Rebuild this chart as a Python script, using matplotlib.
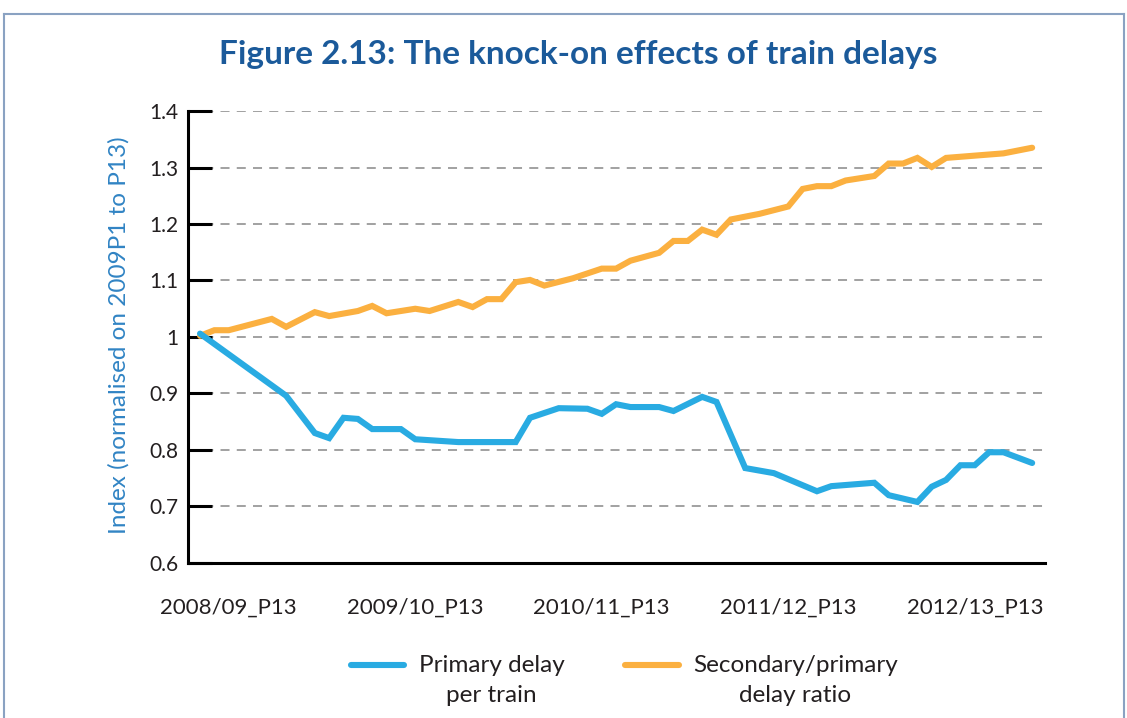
import matplotlib
matplotlib.use('Agg')
import numpy as np
import matplotlib.pyplot as plt
from matplotlib.lines import Line2D
from matplotlib.legend_handler import HandlerLine2D

plt.rcParams['font.family'] = ['Lato', 'DejaVu Sans']

# period index (one step per 4-week period) and index values
orange_x = [0, 1, 2, 5, 6, 8, 9, 11, 12, 13, 15, 16, 18, 19, 20, 21, 22, 23, 24, 26,
            28, 29, 30, 32, 33, 34, 35, 36, 37, 39, 41, 42, 43, 44, 45, 47, 48, 49,
            50, 51, 52, 56, 58]
orange_y = [1.002, 1.012, 1.012, 1.032, 1.018, 1.044, 1.037, 1.046, 1.055, 1.042,
            1.050, 1.046, 1.062, 1.053, 1.067, 1.067, 1.097, 1.101, 1.091, 1.104,
            1.121, 1.121, 1.135, 1.149, 1.170, 1.170, 1.190, 1.181, 1.208, 1.218,
            1.231, 1.262, 1.267, 1.267, 1.277, 1.285, 1.307, 1.307, 1.317, 1.301,
            1.317, 1.325, 1.335]

blue_x = [0, 6, 8, 9, 10, 11, 12, 14, 15, 18, 22, 23, 25, 27, 28, 29, 30, 32, 33,
          35, 36, 38, 40, 43, 44, 47, 48, 50, 51, 52, 53, 54, 55, 56, 58]
blue_y = [1.006, 0.896, 0.830, 0.821, 0.857, 0.855, 0.837, 0.837, 0.819, 0.814,
          0.814, 0.857, 0.874, 0.873, 0.864, 0.881, 0.876, 0.876, 0.869, 0.894,
          0.885, 0.768, 0.759, 0.727, 0.736, 0.742, 0.720, 0.708, 0.735, 0.747,
          0.773, 0.773, 0.796, 0.796, 0.777]

tick_pos = [2, 15, 28, 41, 54]
tick_labels = ['2008/09_P13', '2009/10_P13', '2010/11_P13', '2011/12_P13', '2012/13_P13']
y_ticks = [0.6, 0.7, 0.8, 0.9, 1.0, 1.1, 1.2, 1.3, 1.4]
y_tick_labels = ['0.6', '0.7', '0.8', '0.9', '1', '1.1', '1.2', '1.3', '1.4']

BLUE = '#29abe2'
ORANGE = '#fbb040'
TEXT = '#231f20'


class TopLineHandler(HandlerLine2D):
    """legend line level with the first line of a two-line label"""

    def create_artists(self, legend, orig_handle, xdescent, ydescent, width,
                       height, fontsize, trans):
        artists = super().create_artists(legend, orig_handle, xdescent, ydescent,
                                         width, height, fontsize, trans)
        for a in artists:
            a.set_ydata(np.asarray(a.get_ydata()) + fontsize * 0.66)
        return artists


fig = plt.figure(figsize=(11.27, 7.18), dpi=100)
ax = fig.add_axes([0.1668, 0.2159, 0.7605, 0.6295])

ax.plot(orange_x, orange_y, color=ORANGE, linewidth=4.4,
        solid_capstyle='round', solid_joinstyle='miter', label='Secondary/primary\ndelay ratio', zorder=3)
ax.plot(blue_x, blue_y, color=BLUE, linewidth=4.4,
        solid_capstyle='round', solid_joinstyle='miter', label='Primary delay\nper train', zorder=4)

ax.set_xlim(-0.84, 58.9)
ax.set_ylim(0.6, 1.4)

# dashed gridlines
for v in y_ticks[1:]:
    ax.axhline(v, color='#9a9a9a', linewidth=1.3, linestyle=(0, (5, 4)), zorder=1)

for s in ['top', 'right']:
    ax.spines[s].set_visible(False)
for s in ['left', 'bottom']:
    ax.spines[s].set_linewidth(2.2)
    ax.spines[s].set_color('black')

ax.set_yticks(y_ticks)
ax.set_yticklabels(y_tick_labels)
ax.tick_params(axis='y', direction='in', length=17, width=2.2, pad=7,
               labelsize=15, labelcolor=TEXT)

ax.set_xticks(tick_pos)
ax.set_xticklabels(tick_labels)
ax.tick_params(axis='x', length=0, pad=25, labelsize=16, labelcolor=TEXT)

ax.set_ylabel('Index (normalised on 2009P1 to P13)', fontsize=17.5, color='#3184c4')
ax.yaxis.set_label_coords(-0.068, 0.505)

fig.text(0.513, 0.924, 'Figure 2.13: The knock-on effects of train delays',
         ha='center', va='center', fontsize=24, fontweight='bold', color='#1b5a9a')

handles, labels = ax.get_legend_handles_labels()
handles, labels = handles[::-1], labels[::-1]
leg = ax.legend(handles, labels, loc='upper center', bbox_to_anchor=(0.509, -0.155),
                ncol=2, frameon=False, fontsize=17.5, handlelength=2.2,
                handletextpad=0.6, columnspacing=2.5,
                handler_map={h: TopLineHandler() for h in handles})
for t in leg.get_texts():
    t.set_multialignment('center')
    t.set_color(TEXT)
    t.set_linespacing(1.55)

# outer frame of the figure panel
frame_kw = dict(color='#8aa2c2', linewidth=1.5, transform=fig.transFigure)
fig.add_artist(Line2D([4 / 1127, 1124 / 1127], [1 - 14 / 718, 1 - 14 / 718], **frame_kw))
fig.add_artist(Line2D([4 / 1127, 4 / 1127], [0, 1 - 14 / 718], **frame_kw))
fig.add_artist(Line2D([1124 / 1127, 1124 / 1127], [0, 1 - 14 / 718], **frame_kw))

fig.savefig('out.png', dpi=100)
